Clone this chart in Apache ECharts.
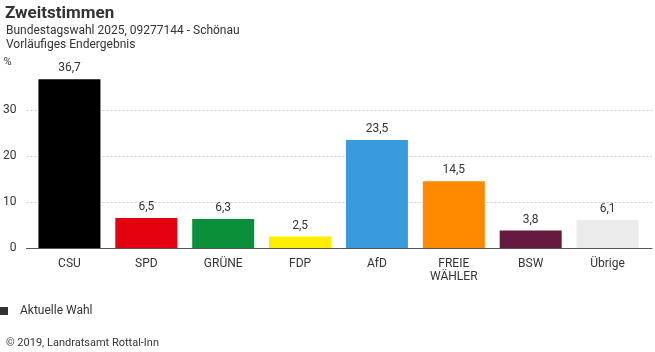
<!DOCTYPE html>
<html>
<head>
<meta charset="utf-8">
<script src="https://cdn.jsdelivr.net/npm/echarts@6/dist/echarts.min.js"></script>
<style>
  html, body { margin: 0; padding: 0; background: #fff; }
  #chart { width: 655px; height: 352px; }
</style>
</head>
<body>
<div id="chart"></div>
<script>
var categories = ['CSU', 'SPD', 'GRÜNE', 'FDP', 'AfD', 'FREIE\nWÄHLER', 'BSW', 'Übrige'];
var values = [36.7, 6.5, 6.3, 2.5, 23.5, 14.5, 3.8, 6.1];
var colors = ['#000000', '#e3000f', '#0a8f3a', '#ffed00', '#3a9ade', '#ff8a00', '#661a40', '#ebebeb'];
var yTicks = [0, 10, 20, 30, 40];

var font = 'Roboto, "Noto Sans", sans-serif';
var chart = echarts.init(document.getElementById('chart'));

chart.setOption({
  animation: false,
  textStyle: { fontFamily: font },
  title: [
    {
      text: 'Zweitstimmen',
      left: 0, top: 0,
      textStyle: { fontSize: 17, fontWeight: 'bold', color: '#333', fontFamily: font }
    },
    {
      text: 'Bundestagswahl 2025, 09277144 - Schönau\nVorläufiges Endergebnis',
      left: 1, top: 19,
      textStyle: { fontSize: 12, fontWeight: 'normal', color: '#333', lineHeight: 14, fontFamily: font }
    },
    {
      text: '© 2019, Landratsamt Rottal-Inn',
      left: 1, top: 333,
      textStyle: { fontSize: 11, fontWeight: 'normal', color: '#333', fontFamily: font }
    }
  ],
  legend: {
    left: 0, top: 305, padding: 0,
    icon: 'rect',
    itemWidth: 8, itemHeight: 8, itemGap: 10,
    textStyle: { fontSize: 12, color: '#333', padding: [0, 0, 0, 7] },
    data: ['Aktuelle Wahl']
  },
  grid: [
    { left: 24, right: 3, top: 64, bottom: 104 },
    { left: 31, right: 9, top: 64, bottom: 104 }
  ],
  xAxis: [
    {
      type: 'value', gridIndex: 0, min: 0, max: 1,
      axisLine: { show: true, onZero: false, lineStyle: { color: '#555', width: 1 } },
      axisTick: { show: false }, axisLabel: { show: false }, splitLine: { show: false }
    },
    {
      type: 'category', gridIndex: 1, data: categories,
      axisLine: { show: false }, axisTick: { show: false },
      axisLabel: { color: '#333', fontSize: 12, margin: 9, lineHeight: 13, interval: 0 }
    }
  ],
  yAxis: [
    {
      type: 'value', gridIndex: 0,
      min: yTicks[0], max: yTicks[yTicks.length - 1], interval: 10,
      name: '%', nameLocation: 'end', nameGap: -4,
      nameTextStyle: { color: '#333', fontSize: 11, align: 'left', padding: [0, 0, 0, -23], verticalAlign: 'bottom' },
      axisLine: { show: false }, axisTick: { show: false },
      axisLabel: { color: '#333', fontSize: 12, margin: 10, showMaxLabel: false },
      splitLine: {
        show: true,
        showMaxLine: false,
        lineStyle: { color: '#ccc', type: [2, 2], width: 1 }
      }
    },
    {
      type: 'value', gridIndex: 1,
      min: yTicks[0], max: yTicks[yTicks.length - 1], interval: 10,
      show: false, splitLine: { show: false }
    }
  ],
  series: [
    {
      name: 'Aktuelle Wahl',
      type: 'bar',
      xAxisIndex: 1, yAxisIndex: 1,
      barWidth: 62,
      itemStyle: { color: '#333' },
      data: values.map(function (v, i) {
        return { value: v, itemStyle: { color: colors[i] } };
      }),
      label: {
        show: true, position: 'top', distance: 5,
        color: '#333', fontSize: 12,
        formatter: function (p) { return p.value.toFixed(1).replace('.', ','); }
      }
    }
  ]
});
</script>
</body>
</html>
